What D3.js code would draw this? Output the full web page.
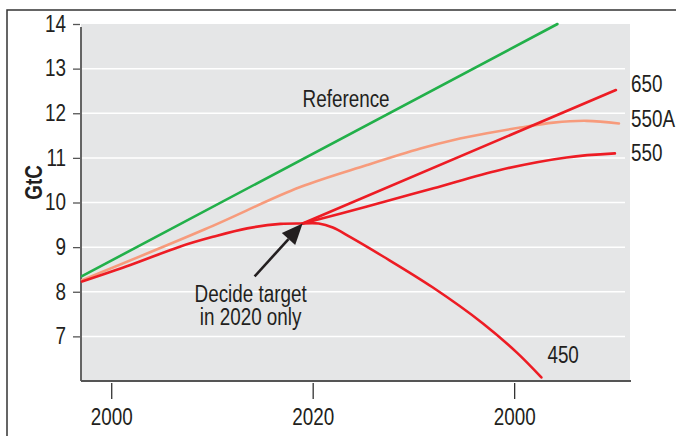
<!DOCTYPE html>
<html>
<head>
<meta charset="utf-8">
<script src="https://cdn.jsdelivr.net/npm/d3@7"></script>
<style>
  body { margin: 0; background: #fff; }
  text { font-family: "Liberation Sans", Arial, sans-serif; fill: #231f20; }
</style>
</head>
<body>
<svg id="chart" width="676" height="436"></svg>
<script>
// data (year, GtC)
var refYears = [1997.1, 2044.3];
var refVals = [8.35, 14.0];

var baseYears = [1997.1, 2001.9, 2006.8, 2010.1, 2013.5, 2016.8, 2019.0];
var baseVals = [8.23, 8.60, 9.01, 9.23, 9.42, 9.52, 9.53];

var a550Years = [1997.1, 2009.3, 2018.7, 2025.4, 2030.7, 2034.0, 2037.3, 2040.6, 2043.9, 2047.2, 2050.4];
var a550Vals = [8.26, 9.40, 10.34, 10.84, 11.21, 11.40, 11.55, 11.68, 11.79, 11.83, 11.77];

var s650Years = [2019.0, 2050.1];
var s650Vals = [9.53, 12.52];

var s550Years = [2019.0, 2025.4, 2032.0, 2038.6, 2045.2, 2050.0];
var s550Vals = [9.53, 9.91, 10.32, 10.73, 11.01, 11.10];

var s450Years = [2019.0, 2020.6, 2022.0, 2023.7, 2027.0, 2031.9, 2036.9, 2040.3, 2042.7];
var s450Vals = [9.53, 9.53, 9.44, 9.23, 8.79, 8.10, 7.29, 6.63, 6.08];

var yTicks = [7, 8, 9, 10, 11, 12, 13, 14];
var xTicks = [2000, 2020, 2040];
var xTickLabels = ['2000', '2020', '2000'];

var endLabels = ['650', '550A', '550'];
var endLabelVals = [12.48, 11.70, 10.94];

var SQUEEZE = 0.82; // no condensed face installed, so narrow the glyphs by hand

var svg = d3.select('#chart');
var x = d3.scaleLinear().domain([1997, 2051.5]).range([81, 630]);
var y = d3.scaleLinear().domain([6, 14]).range([381, 24]);

function condense(sel) {
    sel.each(function () {
        var ax = +this.getAttribute('x') || 0;
        this.setAttribute('transform', 'translate(' + ax + ',0) scale(' + SQUEEZE + ',1) translate(' + (-ax) + ',0)');
    });
}

// outer frame
svg.append('rect').attr('x', 7).attr('y', 10).attr('width', 700).attr('height', 460)
    .attr('fill', 'none').attr('stroke', '#333').attr('stroke-width', 1.5);

svg.append('rect').attr('x', x.range()[0]).attr('y', y(14))
    .attr('width', x.range()[1] - x.range()[0]).attr('height', y(6) - y(14))
    .attr('fill', '#e5e6e7');

// grid
svg.append('g').selectAll('line').data(yTicks.filter(function (d) { return d < 14; }))
    .enter().append('line')
    .attr('x1', x.range()[0]).attr('x2', 625)
    .attr('y1', function (d) { return y(d); }).attr('y2', function (d) { return y(d); })
    .attr('stroke', '#fff').attr('stroke-width', 1.5);

// axes
var yAxis = d3.axisLeft(y).tickValues(yTicks).tickSize(7).tickPadding(7).tickFormat(d3.format('d'));
var gy = svg.append('g').attr('transform', 'translate(' + (x.range()[0] - 1) + ',0)').call(yAxis);
gy.select('.domain').remove();
gy.selectAll('.tick line').attr('stroke', '#555').attr('stroke-width', 1.3);
gy.selectAll('.tick text').attr('font-size', 23).attr('fill', '#231f20')
    .attr('font-family', '"Liberation Sans", Arial, sans-serif').call(condense);

var xAxis = d3.axisBottom(x).tickValues(xTicks).tickSize(16).tickPadding(10)
    .tickFormat(function (d, i) { return xTickLabels[i]; });
var gx = svg.append('g').attr('transform', 'translate(0,' + (y(6) + 2) + ')').call(xAxis);
gx.select('.domain').remove();
gx.selectAll('.tick line').attr('stroke', '#333').attr('stroke-width', 1.3);
gx.selectAll('.tick text').attr('font-size', 23).attr('fill', '#231f20')
    .attr('font-family', '"Liberation Sans", Arial, sans-serif').call(condense);

svg.append('line').attr('x1', x.range()[0]).attr('x2', x.range()[0])
    .attr('y1', y(14) + 3).attr('y2', y(6)).attr('stroke', '#555').attr('stroke-width', 1.8);
svg.append('line').attr('x1', x.range()[0]).attr('x2', x.range()[1] + 1)
    .attr('y1', y(6)).attr('y2', y(6)).attr('stroke', '#555').attr('stroke-width', 1.8);

// series
var line = d3.line()
    .x(function (d) { return x(d[0]); })
    .y(function (d) { return y(d[1]); })
    .curve(d3.curveCatmullRom.alpha(0.5));

function draw(years, vals, color) {
    svg.append('path').datum(d3.zip(years, vals))
        .attr('d', line).attr('fill', 'none')
        .attr('stroke', color).attr('stroke-width', 2.6).attr('stroke-linecap', 'round');
}

draw(refYears, refVals, '#22b04a');
draw(a550Years, a550Vals, '#f79b7c');
draw(baseYears, baseVals, '#ed1c24');
draw(s650Years, s650Vals, '#ed1c24');
draw(s550Years, s550Vals, '#ed1c24');
draw(s450Years, s450Vals, '#ed1c24');

// labels
svg.append('g').selectAll('text').data(endLabels).enter().append('text')
    .attr('x', x.range()[1] + 1)
    .attr('y', function (d, i) { return y(endLabelVals[i]); })
    .attr('font-size', 23).text(function (d) { return d; })
    .call(condense);

svg.append('text').attr('x', x(2043.3)).attr('y', y(6.4)).attr('font-size', 23).text('450').call(condense);
svg.append('text').attr('x', x(2019.0)).attr('y', y(12.15)).attr('font-size', 23).text('Reference').call(condense);

svg.append('text').attr('transform', 'translate(41.5,' + y(10.45) + ') rotate(-90) scale(' + SQUEEZE + ',1)')
    .attr('text-anchor', 'middle').attr('font-size', 23).attr('font-weight', 'bold').text('GtC');

// annotation arrow
var tipX = x(2019.0), tipY = y(9.53);
var tailX = tipX - 48, tailY = tipY + 53;
var ang = Math.atan2(tipY - tailY, tipX - tailX);
var headLen = 21, headW = 9;
var bx = tipX - headLen * Math.cos(ang), by = tipY - headLen * Math.sin(ang);
svg.append('line').attr('x1', tailX).attr('y1', tailY).attr('x2', bx).attr('y2', by)
    .attr('stroke', '#231f20').attr('stroke-width', 2.6);
svg.append('path')
    .attr('d', 'M' + tipX + ',' + tipY +
        'L' + (bx + headW * Math.sin(ang)) + ',' + (by - headW * Math.cos(ang)) +
        'L' + (bx - headW * Math.sin(ang)) + ',' + (by + headW * Math.cos(ang)) + 'Z')
    .attr('fill', '#231f20');

var note = svg.append('text').attr('x', tipX - 52).attr('text-anchor', 'middle').attr('font-size', 23);
note.append('tspan').attr('x', tipX - 52).attr('y', 302).text('Decide target');
note.append('tspan').attr('x', tipX - 52).attr('y', 325).text('in 2020 only');
note.call(condense);
</script>
</body>
</html>
